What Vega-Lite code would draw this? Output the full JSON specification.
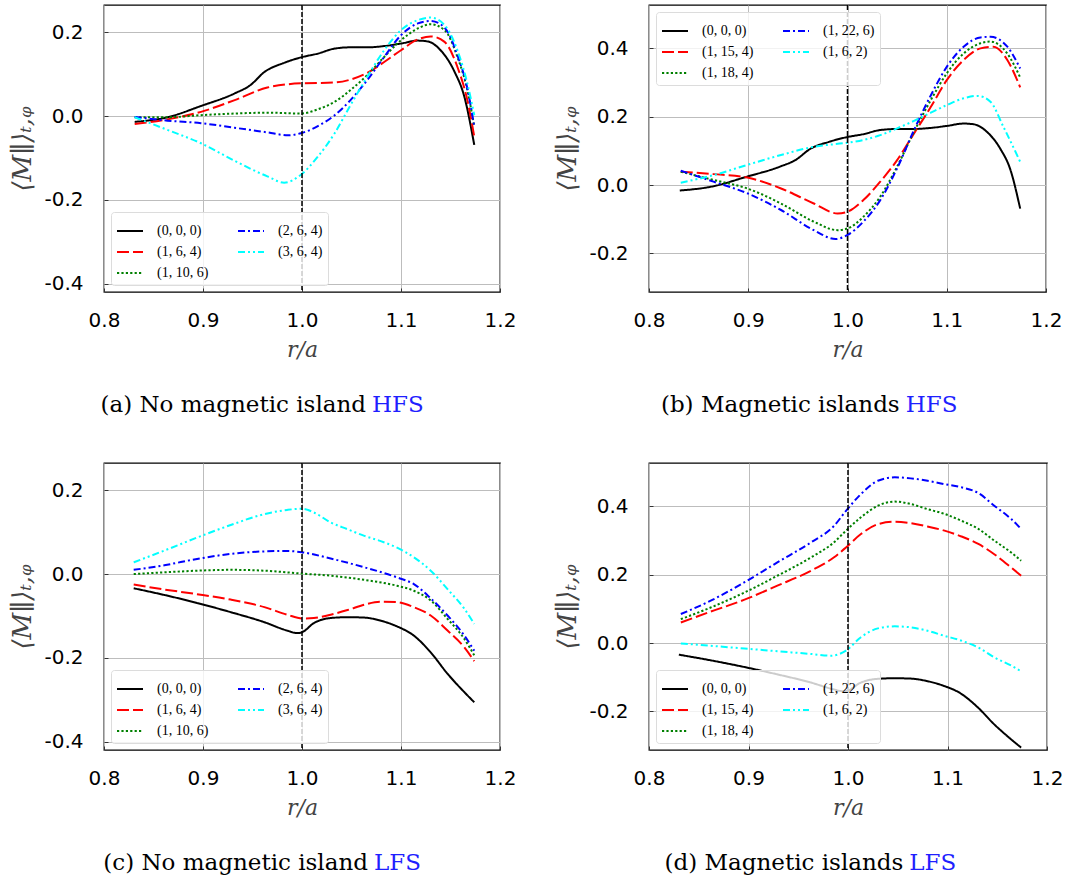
{
  "$schema": "https://vega.github.io/schema/vega-lite/v6.json",
  "background": "white",
  "padding": {"left": 9, "top": 3, "right": 5, "bottom": 5},
  "config": {
    "view": {"stroke": "black", "strokeWidth": 1.3},
    "axis": {
      "grid": true, "gridColor": "#bdbdbd", "gridWidth": 1,
      "ticks": true, "tickSize": -4, "tickColor": "#333", "tickWidth": 1, "domain": false,
      "labelFont": "DejaVu Sans", "labelFontSize": 20, "labelColor": "black", "labelFlush": false,
      "titleFont": "DejaVu Serif", "titleFontSize": 22, "titleFontWeight": "normal", "titleFontStyle": "italic", "titleColor": "#444"
    },
    "axisX": {"labelPadding": 22, "titlePadding": 9},
    "axisY": {"labelPadding": 25, "titlePadding": 8, "titleFontSize": 26},
    "legend": {
      "title": null, "columns": 2, "symbolType": "stroke", "symbolSize": 676, "symbolStrokeWidth": 2,
      "labelFont": "Liberation Serif", "labelFontSize": 14, "labelColor": "black",
      "labelOffset": 13, "columnPadding": 25, "rowPadding": -4, "padding": 5, "offset": 7,
      "fillColor": "rgba(255,255,255,0.8)", "strokeColor": "#dcdcdc", "cornerRadius": 3
    }
  },
  "datasets": {
    "a": [
      {"s": "(0, 0, 0)", "r": 0.831, "m": -0.014}, {"s": "(0, 0, 0)", "r": 0.864, "m": -0.003}, {"s": "(0, 0, 0)", "r": 0.898, "m": 0.024}, {"s": "(0, 0, 0)", "r": 0.932, "m": 0.054}, {"s": "(0, 0, 0)", "r": 0.948, "m": 0.074}, {"s": "(0, 0, 0)", "r": 0.962, "m": 0.105}, {"s": "(0, 0, 0)", "r": 0.982, "m": 0.127}, {"s": "(0, 0, 0)", "r": 0.999, "m": 0.14}, {"s": "(0, 0, 0)", "r": 1.016, "m": 0.149}, {"s": "(0, 0, 0)", "r": 1.033, "m": 0.161}, {"s": "(0, 0, 0)", "r": 1.049, "m": 0.164}, {"s": "(0, 0, 0)", "r": 1.066, "m": 0.164}, {"s": "(0, 0, 0)", "r": 1.083, "m": 0.167}, {"s": "(0, 0, 0)", "r": 1.1, "m": 0.173}, {"s": "(0, 0, 0)", "r": 1.117, "m": 0.18}, {"s": "(0, 0, 0)", "r": 1.127, "m": 0.178}, {"s": "(0, 0, 0)", "r": 1.14, "m": 0.157}, {"s": "(0, 0, 0)", "r": 1.154, "m": 0.106}, {"s": "(0, 0, 0)", "r": 1.164, "m": 0.046}, {"s": "(0, 0, 0)", "r": 1.174, "m": -0.069},
      {"s": "(1, 6, 4)", "r": 0.831, "m": -0.019}, {"s": "(1, 6, 4)", "r": 0.864, "m": -0.008}, {"s": "(1, 6, 4)", "r": 0.898, "m": 0.01}, {"s": "(1, 6, 4)", "r": 0.932, "m": 0.038}, {"s": "(1, 6, 4)", "r": 0.965, "m": 0.068}, {"s": "(1, 6, 4)", "r": 0.999, "m": 0.078}, {"s": "(1, 6, 4)", "r": 1.033, "m": 0.08}, {"s": "(1, 6, 4)", "r": 1.049, "m": 0.087}, {"s": "(1, 6, 4)", "r": 1.066, "m": 0.103}, {"s": "(1, 6, 4)", "r": 1.083, "m": 0.129}, {"s": "(1, 6, 4)", "r": 1.1, "m": 0.157}, {"s": "(1, 6, 4)", "r": 1.117, "m": 0.183}, {"s": "(1, 6, 4)", "r": 1.13, "m": 0.19}, {"s": "(1, 6, 4)", "r": 1.144, "m": 0.177}, {"s": "(1, 6, 4)", "r": 1.157, "m": 0.117}, {"s": "(1, 6, 4)", "r": 1.167, "m": 0.038}, {"s": "(1, 6, 4)", "r": 1.174, "m": -0.049},
      {"s": "(1, 10, 6)", "r": 0.831, "m": -0.003}, {"s": "(1, 10, 6)", "r": 0.864, "m": -0.003}, {"s": "(1, 10, 6)", "r": 0.898, "m": 0.002}, {"s": "(1, 10, 6)", "r": 0.932, "m": 0.006}, {"s": "(1, 10, 6)", "r": 0.965, "m": 0.008}, {"s": "(1, 10, 6)", "r": 0.999, "m": 0.006}, {"s": "(1, 10, 6)", "r": 1.016, "m": 0.016}, {"s": "(1, 10, 6)", "r": 1.033, "m": 0.034}, {"s": "(1, 10, 6)", "r": 1.049, "m": 0.062}, {"s": "(1, 10, 6)", "r": 1.066, "m": 0.098}, {"s": "(1, 10, 6)", "r": 1.083, "m": 0.141}, {"s": "(1, 10, 6)", "r": 1.1, "m": 0.181}, {"s": "(1, 10, 6)", "r": 1.117, "m": 0.209}, {"s": "(1, 10, 6)", "r": 1.13, "m": 0.219}, {"s": "(1, 10, 6)", "r": 1.144, "m": 0.205}, {"s": "(1, 10, 6)", "r": 1.157, "m": 0.141}, {"s": "(1, 10, 6)", "r": 1.167, "m": 0.062}, {"s": "(1, 10, 6)", "r": 1.174, "m": -0.025},
      {"s": "(2, 6, 4)", "r": 0.831, "m": -0.002}, {"s": "(2, 6, 4)", "r": 0.864, "m": -0.011}, {"s": "(2, 6, 4)", "r": 0.898, "m": -0.017}, {"s": "(2, 6, 4)", "r": 0.932, "m": -0.028}, {"s": "(2, 6, 4)", "r": 0.965, "m": -0.039}, {"s": "(2, 6, 4)", "r": 0.986, "m": -0.046}, {"s": "(2, 6, 4)", "r": 0.999, "m": -0.041}, {"s": "(2, 6, 4)", "r": 1.016, "m": -0.024}, {"s": "(2, 6, 4)", "r": 1.033, "m": 0.002}, {"s": "(2, 6, 4)", "r": 1.049, "m": 0.038}, {"s": "(2, 6, 4)", "r": 1.066, "m": 0.086}, {"s": "(2, 6, 4)", "r": 1.083, "m": 0.141}, {"s": "(2, 6, 4)", "r": 1.1, "m": 0.193}, {"s": "(2, 6, 4)", "r": 1.117, "m": 0.221}, {"s": "(2, 6, 4)", "r": 1.13, "m": 0.227}, {"s": "(2, 6, 4)", "r": 1.144, "m": 0.211}, {"s": "(2, 6, 4)", "r": 1.157, "m": 0.145}, {"s": "(2, 6, 4)", "r": 1.167, "m": 0.066}, {"s": "(2, 6, 4)", "r": 1.174, "m": -0.025},
      {"s": "(3, 6, 4)", "r": 0.831, "m": -0.003}, {"s": "(3, 6, 4)", "r": 0.864, "m": -0.033}, {"s": "(3, 6, 4)", "r": 0.898, "m": -0.065}, {"s": "(3, 6, 4)", "r": 0.932, "m": -0.107}, {"s": "(3, 6, 4)", "r": 0.965, "m": -0.144}, {"s": "(3, 6, 4)", "r": 0.982, "m": -0.159}, {"s": "(3, 6, 4)", "r": 0.999, "m": -0.14}, {"s": "(3, 6, 4)", "r": 1.016, "m": -0.097}, {"s": "(3, 6, 4)", "r": 1.033, "m": -0.041}, {"s": "(3, 6, 4)", "r": 1.049, "m": 0.026}, {"s": "(3, 6, 4)", "r": 1.066, "m": 0.094}, {"s": "(3, 6, 4)", "r": 1.083, "m": 0.157}, {"s": "(3, 6, 4)", "r": 1.1, "m": 0.205}, {"s": "(3, 6, 4)", "r": 1.117, "m": 0.229}, {"s": "(3, 6, 4)", "r": 1.13, "m": 0.235}, {"s": "(3, 6, 4)", "r": 1.144, "m": 0.217}, {"s": "(3, 6, 4)", "r": 1.157, "m": 0.157}, {"s": "(3, 6, 4)", "r": 1.167, "m": 0.078}, {"s": "(3, 6, 4)", "r": 1.174, "m": 0.002}
    ],
    "b": [
      {"s": "(0, 0, 0)", "r": 0.831, "m": -0.016}, {"s": "(0, 0, 0)", "r": 0.864, "m": -0.004}, {"s": "(0, 0, 0)", "r": 0.898, "m": 0.024}, {"s": "(0, 0, 0)", "r": 0.932, "m": 0.054}, {"s": "(0, 0, 0)", "r": 0.948, "m": 0.074}, {"s": "(0, 0, 0)", "r": 0.962, "m": 0.105}, {"s": "(0, 0, 0)", "r": 0.982, "m": 0.127}, {"s": "(0, 0, 0)", "r": 0.999, "m": 0.14}, {"s": "(0, 0, 0)", "r": 1.016, "m": 0.149}, {"s": "(0, 0, 0)", "r": 1.033, "m": 0.161}, {"s": "(0, 0, 0)", "r": 1.049, "m": 0.164}, {"s": "(0, 0, 0)", "r": 1.066, "m": 0.164}, {"s": "(0, 0, 0)", "r": 1.083, "m": 0.167}, {"s": "(0, 0, 0)", "r": 1.1, "m": 0.173}, {"s": "(0, 0, 0)", "r": 1.117, "m": 0.18}, {"s": "(0, 0, 0)", "r": 1.127, "m": 0.178}, {"s": "(0, 0, 0)", "r": 1.14, "m": 0.157}, {"s": "(0, 0, 0)", "r": 1.154, "m": 0.106}, {"s": "(0, 0, 0)", "r": 1.164, "m": 0.046}, {"s": "(0, 0, 0)", "r": 1.174, "m": -0.069},
      {"s": "(1, 15, 4)", "r": 0.832, "m": 0.039}, {"s": "(1, 15, 4)", "r": 0.865, "m": 0.032}, {"s": "(1, 15, 4)", "r": 0.899, "m": 0.022}, {"s": "(1, 15, 4)", "r": 0.933, "m": -0.01}, {"s": "(1, 15, 4)", "r": 0.966, "m": -0.054}, {"s": "(1, 15, 4)", "r": 0.99, "m": -0.083}, {"s": "(1, 15, 4)", "r": 1.0, "m": -0.078}, {"s": "(1, 15, 4)", "r": 1.016, "m": -0.044}, {"s": "(1, 15, 4)", "r": 1.033, "m": 0.01}, {"s": "(1, 15, 4)", "r": 1.05, "m": 0.073}, {"s": "(1, 15, 4)", "r": 1.067, "m": 0.151}, {"s": "(1, 15, 4)", "r": 1.084, "m": 0.229}, {"s": "(1, 15, 4)", "r": 1.1, "m": 0.307}, {"s": "(1, 15, 4)", "r": 1.117, "m": 0.366}, {"s": "(1, 15, 4)", "r": 1.134, "m": 0.4}, {"s": "(1, 15, 4)", "r": 1.147, "m": 0.405}, {"s": "(1, 15, 4)", "r": 1.161, "m": 0.366}, {"s": "(1, 15, 4)", "r": 1.174, "m": 0.286},
      {"s": "(1, 18, 4)", "r": 0.832, "m": 0.039}, {"s": "(1, 18, 4)", "r": 0.865, "m": 0.015}, {"s": "(1, 18, 4)", "r": 0.899, "m": -0.01}, {"s": "(1, 18, 4)", "r": 0.933, "m": -0.054}, {"s": "(1, 18, 4)", "r": 0.966, "m": -0.107}, {"s": "(1, 18, 4)", "r": 0.99, "m": -0.132}, {"s": "(1, 18, 4)", "r": 1.0, "m": -0.127}, {"s": "(1, 18, 4)", "r": 1.016, "m": -0.093}, {"s": "(1, 18, 4)", "r": 1.033, "m": -0.034}, {"s": "(1, 18, 4)", "r": 1.05, "m": 0.054}, {"s": "(1, 18, 4)", "r": 1.067, "m": 0.156}, {"s": "(1, 18, 4)", "r": 1.084, "m": 0.249}, {"s": "(1, 18, 4)", "r": 1.1, "m": 0.327}, {"s": "(1, 18, 4)", "r": 1.117, "m": 0.385}, {"s": "(1, 18, 4)", "r": 1.134, "m": 0.415}, {"s": "(1, 18, 4)", "r": 1.144, "m": 0.42}, {"s": "(1, 18, 4)", "r": 1.161, "m": 0.385}, {"s": "(1, 18, 4)", "r": 1.174, "m": 0.315},
      {"s": "(1, 22, 6)", "r": 0.832, "m": 0.042}, {"s": "(1, 22, 6)", "r": 0.865, "m": 0.01}, {"s": "(1, 22, 6)", "r": 0.899, "m": -0.024}, {"s": "(1, 22, 6)", "r": 0.933, "m": -0.073}, {"s": "(1, 22, 6)", "r": 0.966, "m": -0.132}, {"s": "(1, 22, 6)", "r": 0.988, "m": -0.158}, {"s": "(1, 22, 6)", "r": 1.0, "m": -0.146}, {"s": "(1, 22, 6)", "r": 1.016, "m": -0.107}, {"s": "(1, 22, 6)", "r": 1.033, "m": -0.044}, {"s": "(1, 22, 6)", "r": 1.05, "m": 0.049}, {"s": "(1, 22, 6)", "r": 1.067, "m": 0.161}, {"s": "(1, 22, 6)", "r": 1.084, "m": 0.263}, {"s": "(1, 22, 6)", "r": 1.1, "m": 0.346}, {"s": "(1, 22, 6)", "r": 1.117, "m": 0.405}, {"s": "(1, 22, 6)", "r": 1.134, "m": 0.432}, {"s": "(1, 22, 6)", "r": 1.144, "m": 0.434}, {"s": "(1, 22, 6)", "r": 1.161, "m": 0.405}, {"s": "(1, 22, 6)", "r": 1.174, "m": 0.341},
      {"s": "(1, 6, 2)", "r": 0.832, "m": 0.007}, {"s": "(1, 6, 2)", "r": 0.865, "m": 0.029}, {"s": "(1, 6, 2)", "r": 0.899, "m": 0.059}, {"s": "(1, 6, 2)", "r": 0.933, "m": 0.088}, {"s": "(1, 6, 2)", "r": 0.966, "m": 0.112}, {"s": "(1, 6, 2)", "r": 1.0, "m": 0.124}, {"s": "(1, 6, 2)", "r": 1.016, "m": 0.132}, {"s": "(1, 6, 2)", "r": 1.033, "m": 0.146}, {"s": "(1, 6, 2)", "r": 1.05, "m": 0.166}, {"s": "(1, 6, 2)", "r": 1.067, "m": 0.188}, {"s": "(1, 6, 2)", "r": 1.084, "m": 0.212}, {"s": "(1, 6, 2)", "r": 1.1, "m": 0.234}, {"s": "(1, 6, 2)", "r": 1.117, "m": 0.254}, {"s": "(1, 6, 2)", "r": 1.131, "m": 0.261}, {"s": "(1, 6, 2)", "r": 1.144, "m": 0.244}, {"s": "(1, 6, 2)", "r": 1.157, "m": 0.171}, {"s": "(1, 6, 2)", "r": 1.174, "m": 0.068}
    ],
    "c": [
      {"s": "(0, 0, 0)", "r": 0.83, "m": -0.034}, {"s": "(0, 0, 0)", "r": 0.861, "m": -0.05}, {"s": "(0, 0, 0)", "r": 0.894, "m": -0.069}, {"s": "(0, 0, 0)", "r": 0.928, "m": -0.091}, {"s": "(0, 0, 0)", "r": 0.962, "m": -0.115}, {"s": "(0, 0, 0)", "r": 0.985, "m": -0.135}, {"s": "(0, 0, 0)", "r": 0.995, "m": -0.141}, {"s": "(0, 0, 0)", "r": 1.0, "m": -0.139}, {"s": "(0, 0, 0)", "r": 1.012, "m": -0.117}, {"s": "(0, 0, 0)", "r": 1.029, "m": -0.105}, {"s": "(0, 0, 0)", "r": 1.046, "m": -0.103}, {"s": "(0, 0, 0)", "r": 1.063, "m": -0.104}, {"s": "(0, 0, 0)", "r": 1.079, "m": -0.111}, {"s": "(0, 0, 0)", "r": 1.096, "m": -0.125}, {"s": "(0, 0, 0)", "r": 1.113, "m": -0.147}, {"s": "(0, 0, 0)", "r": 1.13, "m": -0.187}, {"s": "(0, 0, 0)", "r": 1.147, "m": -0.238}, {"s": "(0, 0, 0)", "r": 1.164, "m": -0.282}, {"s": "(0, 0, 0)", "r": 1.174, "m": -0.306},
      {"s": "(1, 6, 4)", "r": 0.83, "m": -0.025}, {"s": "(1, 6, 4)", "r": 0.861, "m": -0.037}, {"s": "(1, 6, 4)", "r": 0.894, "m": -0.048}, {"s": "(1, 6, 4)", "r": 0.928, "m": -0.061}, {"s": "(1, 6, 4)", "r": 0.962, "m": -0.079}, {"s": "(1, 6, 4)", "r": 0.985, "m": -0.097}, {"s": "(1, 6, 4)", "r": 1.0, "m": -0.106}, {"s": "(1, 6, 4)", "r": 1.012, "m": -0.105}, {"s": "(1, 6, 4)", "r": 1.029, "m": -0.097}, {"s": "(1, 6, 4)", "r": 1.046, "m": -0.086}, {"s": "(1, 6, 4)", "r": 1.063, "m": -0.073}, {"s": "(1, 6, 4)", "r": 1.079, "m": -0.066}, {"s": "(1, 6, 4)", "r": 1.096, "m": -0.067}, {"s": "(1, 6, 4)", "r": 1.113, "m": -0.079}, {"s": "(1, 6, 4)", "r": 1.13, "m": -0.099}, {"s": "(1, 6, 4)", "r": 1.147, "m": -0.135}, {"s": "(1, 6, 4)", "r": 1.164, "m": -0.175}, {"s": "(1, 6, 4)", "r": 1.174, "m": -0.208},
      {"s": "(1, 10, 6)", "r": 0.83, "m": 0.0}, {"s": "(1, 10, 6)", "r": 0.861, "m": 0.004}, {"s": "(1, 10, 6)", "r": 0.894, "m": 0.008}, {"s": "(1, 10, 6)", "r": 0.928, "m": 0.01}, {"s": "(1, 10, 6)", "r": 0.962, "m": 0.008}, {"s": "(1, 10, 6)", "r": 1.0, "m": 0.001}, {"s": "(1, 10, 6)", "r": 1.029, "m": -0.004}, {"s": "(1, 10, 6)", "r": 1.063, "m": -0.014}, {"s": "(1, 10, 6)", "r": 1.096, "m": -0.028}, {"s": "(1, 10, 6)", "r": 1.113, "m": -0.04}, {"s": "(1, 10, 6)", "r": 1.13, "m": -0.063}, {"s": "(1, 10, 6)", "r": 1.147, "m": -0.107}, {"s": "(1, 10, 6)", "r": 1.164, "m": -0.155}, {"s": "(1, 10, 6)", "r": 1.174, "m": -0.194},
      {"s": "(2, 6, 4)", "r": 0.83, "m": 0.01}, {"s": "(2, 6, 4)", "r": 0.861, "m": 0.021}, {"s": "(2, 6, 4)", "r": 0.894, "m": 0.036}, {"s": "(2, 6, 4)", "r": 0.928, "m": 0.048}, {"s": "(2, 6, 4)", "r": 0.962, "m": 0.054}, {"s": "(2, 6, 4)", "r": 0.985, "m": 0.055}, {"s": "(2, 6, 4)", "r": 1.0, "m": 0.052}, {"s": "(2, 6, 4)", "r": 1.029, "m": 0.037}, {"s": "(2, 6, 4)", "r": 1.063, "m": 0.016}, {"s": "(2, 6, 4)", "r": 1.096, "m": -0.008}, {"s": "(2, 6, 4)", "r": 1.113, "m": -0.024}, {"s": "(2, 6, 4)", "r": 1.13, "m": -0.058}, {"s": "(2, 6, 4)", "r": 1.147, "m": -0.099}, {"s": "(2, 6, 4)", "r": 1.164, "m": -0.147}, {"s": "(2, 6, 4)", "r": 1.174, "m": -0.183},
      {"s": "(3, 6, 4)", "r": 0.83, "m": 0.028}, {"s": "(3, 6, 4)", "r": 0.861, "m": 0.056}, {"s": "(3, 6, 4)", "r": 0.894, "m": 0.087}, {"s": "(3, 6, 4)", "r": 0.928, "m": 0.117}, {"s": "(3, 6, 4)", "r": 0.962, "m": 0.143}, {"s": "(3, 6, 4)", "r": 0.985, "m": 0.153}, {"s": "(3, 6, 4)", "r": 1.0, "m": 0.156}, {"s": "(3, 6, 4)", "r": 1.012, "m": 0.147}, {"s": "(3, 6, 4)", "r": 1.029, "m": 0.123}, {"s": "(3, 6, 4)", "r": 1.046, "m": 0.107}, {"s": "(3, 6, 4)", "r": 1.063, "m": 0.091}, {"s": "(3, 6, 4)", "r": 1.079, "m": 0.079}, {"s": "(3, 6, 4)", "r": 1.096, "m": 0.063}, {"s": "(3, 6, 4)", "r": 1.113, "m": 0.04}, {"s": "(3, 6, 4)", "r": 1.13, "m": 0.008}, {"s": "(3, 6, 4)", "r": 1.147, "m": -0.036}, {"s": "(3, 6, 4)", "r": 1.164, "m": -0.083}, {"s": "(3, 6, 4)", "r": 1.174, "m": -0.119}
    ],
    "d": [
      {"s": "(0, 0, 0)", "r": 0.83, "m": -0.034}, {"s": "(0, 0, 0)", "r": 0.861, "m": -0.05}, {"s": "(0, 0, 0)", "r": 0.894, "m": -0.069}, {"s": "(0, 0, 0)", "r": 0.928, "m": -0.091}, {"s": "(0, 0, 0)", "r": 0.962, "m": -0.115}, {"s": "(0, 0, 0)", "r": 0.985, "m": -0.135}, {"s": "(0, 0, 0)", "r": 0.995, "m": -0.141}, {"s": "(0, 0, 0)", "r": 1.0, "m": -0.139}, {"s": "(0, 0, 0)", "r": 1.012, "m": -0.117}, {"s": "(0, 0, 0)", "r": 1.029, "m": -0.105}, {"s": "(0, 0, 0)", "r": 1.046, "m": -0.103}, {"s": "(0, 0, 0)", "r": 1.063, "m": -0.104}, {"s": "(0, 0, 0)", "r": 1.079, "m": -0.111}, {"s": "(0, 0, 0)", "r": 1.096, "m": -0.125}, {"s": "(0, 0, 0)", "r": 1.113, "m": -0.147}, {"s": "(0, 0, 0)", "r": 1.13, "m": -0.187}, {"s": "(0, 0, 0)", "r": 1.147, "m": -0.238}, {"s": "(0, 0, 0)", "r": 1.164, "m": -0.282}, {"s": "(0, 0, 0)", "r": 1.174, "m": -0.306},
      {"s": "(1, 15, 4)", "r": 0.832, "m": 0.06}, {"s": "(1, 15, 4)", "r": 0.862, "m": 0.092}, {"s": "(1, 15, 4)", "r": 0.896, "m": 0.127}, {"s": "(1, 15, 4)", "r": 0.929, "m": 0.168}, {"s": "(1, 15, 4)", "r": 0.963, "m": 0.212}, {"s": "(1, 15, 4)", "r": 0.986, "m": 0.251}, {"s": "(1, 15, 4)", "r": 0.998, "m": 0.28}, {"s": "(1, 15, 4)", "r": 1.013, "m": 0.319}, {"s": "(1, 15, 4)", "r": 1.03, "m": 0.348}, {"s": "(1, 15, 4)", "r": 1.047, "m": 0.355}, {"s": "(1, 15, 4)", "r": 1.063, "m": 0.351}, {"s": "(1, 15, 4)", "r": 1.08, "m": 0.341}, {"s": "(1, 15, 4)", "r": 1.097, "m": 0.329}, {"s": "(1, 15, 4)", "r": 1.114, "m": 0.312}, {"s": "(1, 15, 4)", "r": 1.131, "m": 0.29}, {"s": "(1, 15, 4)", "r": 1.147, "m": 0.26}, {"s": "(1, 15, 4)", "r": 1.164, "m": 0.221}, {"s": "(1, 15, 4)", "r": 1.174, "m": 0.197},
      {"s": "(1, 18, 4)", "r": 0.832, "m": 0.07}, {"s": "(1, 18, 4)", "r": 0.862, "m": 0.104}, {"s": "(1, 18, 4)", "r": 0.896, "m": 0.148}, {"s": "(1, 18, 4)", "r": 0.929, "m": 0.197}, {"s": "(1, 18, 4)", "r": 0.963, "m": 0.251}, {"s": "(1, 18, 4)", "r": 0.986, "m": 0.295}, {"s": "(1, 18, 4)", "r": 0.998, "m": 0.329}, {"s": "(1, 18, 4)", "r": 1.013, "m": 0.368}, {"s": "(1, 18, 4)", "r": 1.03, "m": 0.402}, {"s": "(1, 18, 4)", "r": 1.047, "m": 0.414}, {"s": "(1, 18, 4)", "r": 1.063, "m": 0.407}, {"s": "(1, 18, 4)", "r": 1.08, "m": 0.392}, {"s": "(1, 18, 4)", "r": 1.097, "m": 0.378}, {"s": "(1, 18, 4)", "r": 1.114, "m": 0.358}, {"s": "(1, 18, 4)", "r": 1.131, "m": 0.334}, {"s": "(1, 18, 4)", "r": 1.147, "m": 0.3}, {"s": "(1, 18, 4)", "r": 1.164, "m": 0.265}, {"s": "(1, 18, 4)", "r": 1.174, "m": 0.241},
      {"s": "(1, 22, 6)", "r": 0.832, "m": 0.085}, {"s": "(1, 22, 6)", "r": 0.862, "m": 0.124}, {"s": "(1, 22, 6)", "r": 0.896, "m": 0.178}, {"s": "(1, 22, 6)", "r": 0.929, "m": 0.236}, {"s": "(1, 22, 6)", "r": 0.963, "m": 0.295}, {"s": "(1, 22, 6)", "r": 0.986, "m": 0.343}, {"s": "(1, 22, 6)", "r": 0.998, "m": 0.387}, {"s": "(1, 22, 6)", "r": 1.013, "m": 0.436}, {"s": "(1, 22, 6)", "r": 1.03, "m": 0.475}, {"s": "(1, 22, 6)", "r": 1.047, "m": 0.485}, {"s": "(1, 22, 6)", "r": 1.063, "m": 0.482}, {"s": "(1, 22, 6)", "r": 1.08, "m": 0.475}, {"s": "(1, 22, 6)", "r": 1.097, "m": 0.465}, {"s": "(1, 22, 6)", "r": 1.114, "m": 0.456}, {"s": "(1, 22, 6)", "r": 1.131, "m": 0.439}, {"s": "(1, 22, 6)", "r": 1.147, "m": 0.402}, {"s": "(1, 22, 6)", "r": 1.164, "m": 0.363}, {"s": "(1, 22, 6)", "r": 1.174, "m": 0.334},
      {"s": "(1, 6, 2)", "r": 0.832, "m": -0.001}, {"s": "(1, 6, 2)", "r": 0.862, "m": -0.008}, {"s": "(1, 6, 2)", "r": 0.896, "m": -0.016}, {"s": "(1, 6, 2)", "r": 0.929, "m": -0.024}, {"s": "(1, 6, 2)", "r": 0.963, "m": -0.032}, {"s": "(1, 6, 2)", "r": 0.983, "m": -0.037}, {"s": "(1, 6, 2)", "r": 0.998, "m": -0.022}, {"s": "(1, 6, 2)", "r": 1.013, "m": 0.017}, {"s": "(1, 6, 2)", "r": 1.03, "m": 0.043}, {"s": "(1, 6, 2)", "r": 1.047, "m": 0.049}, {"s": "(1, 6, 2)", "r": 1.063, "m": 0.046}, {"s": "(1, 6, 2)", "r": 1.08, "m": 0.036}, {"s": "(1, 6, 2)", "r": 1.097, "m": 0.021}, {"s": "(1, 6, 2)", "r": 1.114, "m": 0.007}, {"s": "(1, 6, 2)", "r": 1.131, "m": -0.013}, {"s": "(1, 6, 2)", "r": 1.147, "m": -0.042}, {"s": "(1, 6, 2)", "r": 1.164, "m": -0.066}, {"s": "(1, 6, 2)", "r": 1.174, "m": -0.083}
    ]
  },
  "spacing": 41,
  "resolve": {"scale": {"x": "independent", "y": "independent", "color": "independent", "strokeDash": "independent"}, "legend": {"color": "independent", "strokeDash": "independent"}},
  "vconcat": [
    {
      "spacing": 37,
      "resolve": {"scale": {"x": "independent", "y": "independent", "color": "independent", "strokeDash": "independent"}, "legend": {"color": "independent", "strokeDash": "independent"}},
      "hconcat": [
        {
          "spacing": 29,
          "resolve": {"scale": {"x": "independent", "y": "independent", "color": "independent", "strokeDash": "independent"}, "legend": {"color": "independent", "strokeDash": "independent"}},
          "vconcat": [
            {
              "width": 396, "height": 287,
              "layer": [
                {
                  "data": {"name": "a"},
                  "mark": {"type": "line", "strokeWidth": 2, "interpolate": "monotone"},
                  "encoding": {
                    "x": {"field": "r", "type": "quantitative", "title": "r/a", "scale": {"domain": [0.8, 1.2], "nice": false, "zero": false}, "axis": {"values": [0.8, 0.9, 1.0, 1.1, 1.2], "format": ".1f"}},
                    "y": {"field": "m", "type": "quantitative", "title": "⟨M∥⟩ₜ,ᵩ", "scale": {"domain": [-0.42, 0.265], "nice": false, "zero": false}, "axis": {"values": [-0.4, -0.2, 0, 0.2], "labelExpr": "datum.value < 0 ? '-' + format(-datum.value, '.1f') : format(datum.value, '.1f')"}},
                    "color": {"field": "s", "type": "nominal", "scale": {"domain": ["(0, 0, 0)", "(1, 6, 4)", "(1, 10, 6)", "(2, 6, 4)", "(3, 6, 4)"], "range": ["#000000", "#ff0000", "#008000", "#0000ff", "#00ffff"]}, "legend": {"orient": "bottom-left"}},
                    "strokeDash": {"field": "s", "type": "nominal", "scale": {"domain": ["(0, 0, 0)", "(1, 6, 4)", "(1, 10, 6)", "(2, 6, 4)", "(3, 6, 4)"], "range": [[1, 0], [12, 4], [2.2, 2.2], [7, 3, 2, 3], [7, 3, 2, 3, 2, 3]]}, "legend": {"orient": "bottom-left"}}
                  }
                },
                {"data": {"values": [{"r": 1.0}]}, "mark": {"type": "rule", "color": "black", "strokeDash": [5, 2], "strokeWidth": 1.5}, "encoding": {"x": {"field": "r", "type": "quantitative"}}}
              ]
            },
            {
              "width": 396, "height": 30, "view": {"stroke": null},
              "data": {"values": [{"main": "(a) No magnetic island", "side": "HFS", "at": 1.0707}]},
              "layer": [
                {"mark": {"type": "text", "align": "right", "baseline": "middle", "font": "DejaVu Serif", "fontSize": 23, "color": "black", "dx": -6}, "encoding": {"x": {"field": "at", "type": "quantitative", "scale": {"domain": [0.8, 1.2]}, "axis": null}, "text": {"field": "main"}}},
                {"mark": {"type": "text", "align": "left", "baseline": "middle", "font": "DejaVu Serif", "fontSize": 23, "color": "#1f1fff"}, "encoding": {"x": {"field": "at", "type": "quantitative", "scale": {"domain": [0.8, 1.2]}, "axis": null}, "text": {"field": "side"}}}
              ]
            }
          ]
        },
        {
          "spacing": 29,
          "resolve": {"scale": {"x": "independent", "y": "independent", "color": "independent", "strokeDash": "independent"}, "legend": {"color": "independent", "strokeDash": "independent"}},
          "vconcat": [
            {
              "width": 397, "height": 287,
              "layer": [
                {
                  "data": {"name": "b"},
                  "mark": {"type": "line", "strokeWidth": 2, "interpolate": "monotone"},
                  "encoding": {
                    "x": {"field": "r", "type": "quantitative", "title": "r/a", "scale": {"domain": [0.8, 1.2], "nice": false, "zero": false}, "axis": {"values": [0.8, 0.9, 1.0, 1.1, 1.2], "format": ".1f"}},
                    "y": {"field": "m", "type": "quantitative", "title": "⟨M∥⟩ₜ,ᵩ", "scale": {"domain": [-0.313, 0.527], "nice": false, "zero": false}, "axis": {"values": [-0.2, 0, 0.2, 0.4], "labelExpr": "datum.value < 0 ? '-' + format(-datum.value, '.1f') : format(datum.value, '.1f')"}},
                    "color": {"field": "s", "type": "nominal", "scale": {"domain": ["(0, 0, 0)", "(1, 15, 4)", "(1, 18, 4)", "(1, 22, 6)", "(1, 6, 2)"], "range": ["#000000", "#ff0000", "#008000", "#0000ff", "#00ffff"]}, "legend": {"orient": "top-left"}},
                    "strokeDash": {"field": "s", "type": "nominal", "scale": {"domain": ["(0, 0, 0)", "(1, 15, 4)", "(1, 18, 4)", "(1, 22, 6)", "(1, 6, 2)"], "range": [[1, 0], [12, 4], [2.2, 2.2], [7, 3, 2, 3], [7, 3, 2, 3, 2, 3]]}, "legend": {"orient": "top-left"}}
                  }
                },
                {"data": {"values": [{"r": 1.0}]}, "mark": {"type": "rule", "color": "black", "strokeDash": [5, 2], "strokeWidth": 1.5}, "encoding": {"x": {"field": "r", "type": "quantitative"}}}
              ]
            },
            {
              "width": 397, "height": 30, "view": {"stroke": null},
              "data": {"values": [{"main": "(b) Magnetic islands", "side": "HFS", "at": 1.0586}]},
              "layer": [
                {"mark": {"type": "text", "align": "right", "baseline": "middle", "font": "DejaVu Serif", "fontSize": 23, "color": "black", "dx": -6}, "encoding": {"x": {"field": "at", "type": "quantitative", "scale": {"domain": [0.8, 1.2]}, "axis": null}, "text": {"field": "main"}}},
                {"mark": {"type": "text", "align": "left", "baseline": "middle", "font": "DejaVu Serif", "fontSize": 23, "color": "#1f1fff"}, "encoding": {"x": {"field": "at", "type": "quantitative", "scale": {"domain": [0.8, 1.2]}, "axis": null}, "text": {"field": "side"}}}
              ]
            }
          ]
        }
      ]
    },
    {
      "spacing": 37,
      "resolve": {"scale": {"x": "independent", "y": "independent", "color": "independent", "strokeDash": "independent"}, "legend": {"color": "independent", "strokeDash": "independent"}},
      "hconcat": [
        {
          "spacing": 29,
          "resolve": {"scale": {"x": "independent", "y": "independent", "color": "independent", "strokeDash": "independent"}, "legend": {"color": "independent", "strokeDash": "independent"}},
          "vconcat": [
            {
              "width": 396, "height": 287,
              "layer": [
                {
                  "data": {"name": "c"},
                  "mark": {"type": "line", "strokeWidth": 2, "interpolate": "monotone"},
                  "encoding": {
                    "x": {"field": "r", "type": "quantitative", "title": "r/a", "scale": {"domain": [0.8, 1.2], "nice": false, "zero": false}, "axis": {"values": [0.8, 0.9, 1.0, 1.1, 1.2], "format": ".1f"}},
                    "y": {"field": "m", "type": "quantitative", "title": "⟨M∥⟩ₜ,ᵩ", "scale": {"domain": [-0.42, 0.265], "nice": false, "zero": false}, "axis": {"values": [-0.4, -0.2, 0, 0.2], "labelExpr": "datum.value < 0 ? '-' + format(-datum.value, '.1f') : format(datum.value, '.1f')"}},
                    "color": {"field": "s", "type": "nominal", "scale": {"domain": ["(0, 0, 0)", "(1, 6, 4)", "(1, 10, 6)", "(2, 6, 4)", "(3, 6, 4)"], "range": ["#000000", "#ff0000", "#008000", "#0000ff", "#00ffff"]}, "legend": {"orient": "bottom-left"}},
                    "strokeDash": {"field": "s", "type": "nominal", "scale": {"domain": ["(0, 0, 0)", "(1, 6, 4)", "(1, 10, 6)", "(2, 6, 4)", "(3, 6, 4)"], "range": [[1, 0], [12, 4], [2.2, 2.2], [7, 3, 2, 3], [7, 3, 2, 3, 2, 3]]}, "legend": {"orient": "bottom-left"}}
                  }
                },
                {"data": {"values": [{"r": 1.0}]}, "mark": {"type": "rule", "color": "black", "strokeDash": [5, 2], "strokeWidth": 1.5}, "encoding": {"x": {"field": "r", "type": "quantitative"}}}
              ]
            },
            {
              "width": 396, "height": 30, "view": {"stroke": null},
              "data": {"values": [{"main": "(c) No magnetic island", "side": "LFS", "at": 1.0727}]},
              "layer": [
                {"mark": {"type": "text", "align": "right", "baseline": "middle", "font": "DejaVu Serif", "fontSize": 23, "color": "black", "dx": -6}, "encoding": {"x": {"field": "at", "type": "quantitative", "scale": {"domain": [0.8, 1.2]}, "axis": null}, "text": {"field": "main"}}},
                {"mark": {"type": "text", "align": "left", "baseline": "middle", "font": "DejaVu Serif", "fontSize": 23, "color": "#1f1fff"}, "encoding": {"x": {"field": "at", "type": "quantitative", "scale": {"domain": [0.8, 1.2]}, "axis": null}, "text": {"field": "side"}}}
              ]
            }
          ]
        },
        {
          "spacing": 29,
          "resolve": {"scale": {"x": "independent", "y": "independent", "color": "independent", "strokeDash": "independent"}, "legend": {"color": "independent", "strokeDash": "independent"}},
          "vconcat": [
            {
              "width": 398, "height": 287,
              "layer": [
                {
                  "data": {"name": "d"},
                  "mark": {"type": "line", "strokeWidth": 2, "interpolate": "monotone"},
                  "encoding": {
                    "x": {"field": "r", "type": "quantitative", "title": "r/a", "scale": {"domain": [0.8, 1.2], "nice": false, "zero": false}, "axis": {"values": [0.8, 0.9, 1.0, 1.1, 1.2], "format": ".1f"}},
                    "y": {"field": "m", "type": "quantitative", "title": "⟨M∥⟩ₜ,ᵩ", "scale": {"domain": [-0.313, 0.527], "nice": false, "zero": false}, "axis": {"values": [-0.2, 0, 0.2, 0.4], "labelExpr": "datum.value < 0 ? '-' + format(-datum.value, '.1f') : format(datum.value, '.1f')"}},
                    "color": {"field": "s", "type": "nominal", "scale": {"domain": ["(0, 0, 0)", "(1, 15, 4)", "(1, 18, 4)", "(1, 22, 6)", "(1, 6, 2)"], "range": ["#000000", "#ff0000", "#008000", "#0000ff", "#00ffff"]}, "legend": {"orient": "bottom-left"}},
                    "strokeDash": {"field": "s", "type": "nominal", "scale": {"domain": ["(0, 0, 0)", "(1, 15, 4)", "(1, 18, 4)", "(1, 22, 6)", "(1, 6, 2)"], "range": [[1, 0], [12, 4], [2.2, 2.2], [7, 3, 2, 3], [7, 3, 2, 3, 2, 3]]}, "legend": {"orient": "bottom-left"}}
                  }
                },
                {"data": {"values": [{"r": 1.0}]}, "mark": {"type": "rule", "color": "black", "strokeDash": [5, 2], "strokeWidth": 1.5}, "encoding": {"x": {"field": "r", "type": "quantitative"}}}
              ]
            },
            {
              "width": 398, "height": 30, "view": {"stroke": null},
              "data": {"values": [{"main": "(d) Magnetic islands", "side": "LFS", "at": 1.0616}]},
              "layer": [
                {"mark": {"type": "text", "align": "right", "baseline": "middle", "font": "DejaVu Serif", "fontSize": 23, "color": "black", "dx": -6}, "encoding": {"x": {"field": "at", "type": "quantitative", "scale": {"domain": [0.8, 1.2]}, "axis": null}, "text": {"field": "main"}}},
                {"mark": {"type": "text", "align": "left", "baseline": "middle", "font": "DejaVu Serif", "fontSize": 23, "color": "#1f1fff"}, "encoding": {"x": {"field": "at", "type": "quantitative", "scale": {"domain": [0.8, 1.2]}, "axis": null}, "text": {"field": "side"}}}
              ]
            }
          ]
        }
      ]
    }
  ]
}
